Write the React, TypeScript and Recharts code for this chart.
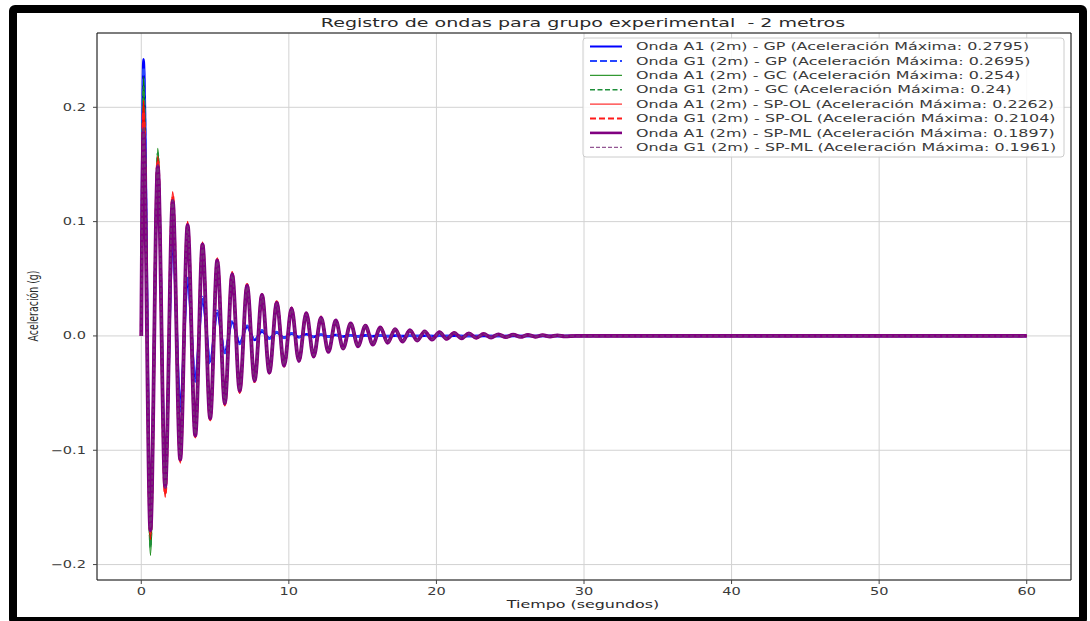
import React from 'react';
import { LineChart, Line, XAxis, YAxis, CartesianGrid, ReferenceArea } from 'recharts';

// ─── Data ─────────────────────────────────────────────────────────────────────

const TITLE = 'Registro de ondas para grupo experimental  - 2 metros';
const X_LABEL = 'Tiempo (segundos)';
const Y_LABEL = 'Aceleración (g)';

const X_TICKS = [0, 10, 20, 30, 40, 50, 60];
const Y_TICKS = [-0.2, -0.1, 0, 0.1, 0.2];
const Y_TICK_LABELS = ['\u22120.2', '\u22120.1', '0.0', '0.1', '0.2'];
const X_DOMAIN: [number, number] = [-3, 63];
const Y_DOMAIN: [number, number] = [-0.2135, 0.265];

const TIMES = [
  0,
  0.15, 0.62, 1.12, 1.62, 2.13, 2.64, 3.14, 3.66, 4.15, 4.67,
  5.15, 5.66, 6.16, 6.67, 7.17, 7.68, 8.18, 8.68, 9.18, 9.68,
  10.18, 10.68, 11.18, 11.68, 12.18, 12.68, 13.18, 13.68, 14.19, 14.69,
  15.19, 15.69, 16.2, 16.7, 17.2, 17.7, 18.2, 18.7, 19.2, 19.7,
  20.2, 20.7, 21.2, 21.7, 22.2, 22.7, 23.2, 23.7, 24.2, 24.7,
  25.2, 25.7, 26.2, 26.7, 27.2, 27.7, 28.2, 28.7,
  29.5, 60,
];

// extrema (peak, trough, peak, ...) of each record
const A1_GP = [
  0.242, -0.165, 0.150, -0.120, 0.085, -0.062, 0.048, -0.037, 0.032, -0.022,
  0.020, -0.014, 0.012, -0.006, 0.008, -0.0035, 0.004, -0.002, 0.003, -0.0015,
  0.002, -0.001, 0.0015, -0.0008, 0.001, -0.0006, 0.0008, -0.0005, 0.0006, -0.0004,
  0.0005, -0.0003, 0.0004, -0.0002, 0.0003, -0.0002, 0.0002, -0.0001, 0.0002, -0.0001,
  0.0001, -0.0001, 0.0001, 0, 0, 0, 0, 0, 0, 0,
  0, 0, 0, 0, 0, 0, 0, 0,
];
const G1_GP = [
  0.235, -0.160, 0.146, -0.118, 0.088, -0.066, 0.052, -0.040, 0.034, -0.024,
  0.022, -0.015, 0.013, -0.007, 0.009, -0.004, 0.005, -0.0025, 0.0035, -0.0018,
  0.0025, -0.0012, 0.0018, -0.0009, 0.0012, -0.0007, 0.0009, -0.0005, 0.0007, -0.0004,
  0.0005, -0.0003, 0.0004, -0.0003, 0.0003, -0.0002, 0.0002, -0.0001, 0.0002, -0.0001,
  0.0001, -0.0001, 0.0001, 0, 0, 0, 0, 0, 0, 0,
  0, 0, 0, 0, 0, 0, 0, 0,
];
const A1_GC = [
  0.227, -0.192, 0.164, -0.138, 0.121, -0.106, 0.096, -0.085, 0.079, -0.070,
  0.064, -0.057, 0.052, -0.046, 0.042, -0.037, 0.034, -0.030, 0.027, -0.024,
  0.022, -0.020, 0.018, -0.016, 0.015, -0.013, 0.012, -0.010, 0.010, -0.008,
  0.008, -0.0068, 0.0068, -0.0055, 0.0055, -0.0045, 0.0045, -0.0036, 0.0036, -0.0029,
  0.003, -0.0024, 0.0024, -0.0019, 0.002, -0.0016, 0.0016, -0.0013, 0.0013, -0.001,
  0.001, -0.0008, 0.0008, -0.0006, 0.0006, -0.0005, 0.0005, -0.0003,
];
const G1_GC = [
  0.218, -0.185, 0.160, -0.135, 0.119, -0.105, 0.095, -0.085, 0.078, -0.070,
  0.064, -0.057, 0.053, -0.047, 0.043, -0.038, 0.035, -0.031, 0.028, -0.025,
  0.023, -0.021, 0.019, -0.017, 0.015, -0.013, 0.0125, -0.0105, 0.0105, -0.0085,
  0.0085, -0.007, 0.007, -0.0057, 0.0057, -0.0046, 0.0046, -0.0037, 0.0037, -0.003,
  0.0031, -0.0025, 0.0025, -0.002, 0.002, -0.0016, 0.0017, -0.0013, 0.0013, -0.001,
  0.001, -0.0008, 0.0008, -0.0006, 0.0006, -0.0005, 0.0005, -0.0003,
];
const A1_SPOL = [
  0.206, -0.178, 0.157, -0.141, 0.126, -0.111, 0.100, -0.089, 0.082, -0.074,
  0.068, -0.061, 0.056, -0.050, 0.045, -0.040, 0.037, -0.033, 0.030, -0.027,
  0.025, -0.022, 0.020, -0.018, 0.017, -0.014, 0.014, -0.011, 0.011, -0.009,
  0.009, -0.0075, 0.0075, -0.006, 0.006, -0.005, 0.005, -0.004, 0.004, -0.0033,
  0.0033, -0.0027, 0.0027, -0.0022, 0.0022, -0.0017, 0.0018, -0.0014, 0.0014, -0.0011,
  0.0011, -0.0009, 0.0009, -0.0007, 0.0007, -0.0005, 0.0005, -0.0004,
];
const G1_SPOL = [
  0.196, -0.172, 0.153, -0.138, 0.122, -0.109, 0.098, -0.088, 0.081, -0.073,
  0.067, -0.060, 0.055, -0.049, 0.045, -0.040, 0.036, -0.032, 0.030, -0.026,
  0.024, -0.022, 0.020, -0.018, 0.016, -0.014, 0.013, -0.011, 0.011, -0.009,
  0.009, -0.0075, 0.0075, -0.006, 0.006, -0.005, 0.005, -0.004, 0.004, -0.0032,
  0.0033, -0.0026, 0.0027, -0.0021, 0.0022, -0.0017, 0.0018, -0.0014, 0.0014, -0.0011,
  0.0011, -0.0009, 0.0009, -0.0007, 0.0007, -0.0005, 0.0005, -0.0004,
];
const A1_SPML = [
  0.178, -0.170, 0.148, -0.132, 0.118, -0.108, 0.097, -0.087, 0.080, -0.072,
  0.066, -0.059, 0.054, -0.048, 0.044, -0.039, 0.036, -0.032, 0.029, -0.026,
  0.024, -0.022, 0.020, -0.018, 0.016, -0.014, 0.0135, -0.011, 0.011, -0.009,
  0.009, -0.0075, 0.0075, -0.006, 0.006, -0.005, 0.005, -0.004, 0.004, -0.0032,
  0.0033, -0.0026, 0.0027, -0.0021, 0.0022, -0.0017, 0.0018, -0.0014, 0.0014, -0.0011,
  0.0011, -0.0009, 0.0009, -0.0007, 0.0007, -0.0005, 0.0005, -0.0004,
];
const G1_SPML = [
  0.183, -0.168, 0.150, -0.133, 0.119, -0.107, 0.096, -0.086, 0.079, -0.071,
  0.065, -0.058, 0.053, -0.047, 0.043, -0.038, 0.035, -0.031, 0.028, -0.025,
  0.023, -0.021, 0.019, -0.017, 0.016, -0.013, 0.013, -0.011, 0.011, -0.009,
  0.009, -0.0072, 0.0072, -0.006, 0.006, -0.0048, 0.0048, -0.0039, 0.0039, -0.0031,
  0.0032, -0.0025, 0.0026, -0.002, 0.0021, -0.0016, 0.0017, -0.0013, 0.0013, -0.001,
  0.001, -0.0008, 0.0008, -0.0006, 0.0006, -0.0005, 0.0005, -0.0003,
];

const SERIES_LABELS = [
  'Onda A1 (2m) - GP (Aceleración Máxima: 0.2795)',
  'Onda G1 (2m) - GP (Aceleración Máxima: 0.2695)',
  'Onda A1 (2m) - GC (Aceleración Máxima: 0.254)',
  'Onda G1 (2m) - GC (Aceleración Máxima: 0.24)',
  'Onda A1 (2m) - SP-OL (Aceleración Máxima: 0.2262)',
  'Onda G1 (2m) - SP-OL (Aceleración Máxima: 0.2104)',
  'Onda A1 (2m) - SP-ML (Aceleración Máxima: 0.1897)',
  'Onda G1 (2m) - SP-ML (Aceleración Máxima: 0.1961)',
];
const SERIES_VALUES = [A1_GP, G1_GP, A1_GC, G1_GC, A1_SPOL, G1_SPOL, A1_SPML, G1_SPML];

// ─── Styles ───────────────────────────────────────────────────────────────────

const FONT = "'DejaVu Sans', Verdana, sans-serif";
const STX = 1.5; // glyphs in the reference are stretched horizontally

// width = legend sample, plotWidth = curve in the plot (looks fatter there)
const SERIES_STYLE = [
  { color: '#0000ff', width: 2, plotWidth: 2.6, dash: undefined },
  { color: '#2846ff', width: 2, plotWidth: 2.4, dash: '7 3' },
  { color: '#008000', width: 1, plotWidth: 1.6, dash: undefined },
  { color: '#1f8f3a', width: 1.5, plotWidth: 2, dash: '5 2.5' },
  { color: '#ff0000', width: 1, plotWidth: 1.8, dash: undefined },
  { color: '#ff1a1a', width: 2, plotWidth: 2.8, dash: '6 3' },
  { color: '#800080', width: 2.6, plotWidth: 3.8, dash: undefined },
  { color: '#7a2d7a', width: 1, plotWidth: 1.6, dash: '4 2' },
];

const rows = TIMES.map((t, i) => {
  const row: Record<string, number> = { t };
  SERIES_VALUES.forEach((vals, s) => {
    row['s' + s] = i === 0 || i > vals.length ? 0 : vals[i - 1] ?? 0;
  });
  return row;
});

// ─── Ticks ────────────────────────────────────────────────────────────────────

function XTick({ x, y, payload }: any) {
  return (
    <text
      transform={`translate(${x},${y + 9}) scale(${STX},1)`}
      textAnchor="middle"
      fontSize={9.7}
      fill="#3a3a3a"
      fontFamily={FONT}
    >
      {payload.value}
    </text>
  );
}

function YTick({ y, payload }: any) {
  const idx = Y_TICKS.findIndex((v) => Math.abs(v - payload.value) < 1e-9);
  return (
    <text
      transform={`translate(86,${y + 3.5}) scale(${STX},1)`}
      textAnchor="end"
      fontSize={9.7}
      fill="#3a3a3a"
      fontFamily={FONT}
    >
      {Y_TICK_LABELS[idx]}
    </text>
  );
}

// ─── Component ────────────────────────────────────────────────────────────────

export default function App() {
  return (
    <div style={{ position: 'absolute', left: 0, top: 0, width: 1090, height: 621, background: '#fff', overflow: 'hidden' }}>
      <div
        style={{
          position: 'absolute', left: 9, top: 5, width: 1078, height: 620,
          boxSizing: 'border-box', border: '8px solid #000', borderRadius: 6,
        }}
      />
      <div style={{ position: 'absolute', left: 0, top: 0 }}>
        <LineChart width={1090} height={621} data={rows} margin={{ top: 33, right: 19, bottom: 11, left: 37 }}>
          <CartesianGrid stroke="#d2d2d2" strokeWidth={1} />
          <XAxis
            dataKey="t"
            type="number"
            domain={X_DOMAIN}
            ticks={X_TICKS}
            allowDataOverflow
            height={30}
            axisLine={false}
            tickSize={4}
            tickLine={{ stroke: '#444' }}
            tick={<XTick />}
          />
          <YAxis
            type="number"
            domain={Y_DOMAIN}
            ticks={Y_TICKS}
            allowDataOverflow
            width={60}
            axisLine={false}
            tickSize={4}
            tickLine={{ stroke: '#444' }}
            tick={<YTick />}
          />
          <ReferenceArea
            x1={X_DOMAIN[0]}
            x2={X_DOMAIN[1]}
            y1={Y_DOMAIN[0]}
            y2={Y_DOMAIN[1]}
            fill="none"
            stroke="#111"
            strokeWidth={1}
            ifOverflow="visible"
          />
          {SERIES_STYLE.map((st, s) => (
            <Line
              key={s}
              type="monotone"
              dataKey={'s' + s}
              stroke={st.color}
              strokeWidth={st.plotWidth}
              strokeDasharray={st.dash}
              dot={false}
              isAnimationActive={false}
            />
          ))}
        </LineChart>
      </div>
      {/* title, axis labels and legend */}
      <svg width={1090} height={621} style={{ position: 'absolute', left: 0, top: 0, pointerEvents: 'none' }}>
        <text
          transform={`translate(583,27) scale(${STX},1)`}
          textAnchor="middle"
          fontSize={12.7}
          fill="#2a2a2a"
          fontFamily={FONT}
          style={{ whiteSpace: 'pre' }}
        >
          {TITLE}
        </text>
        <text
          transform={`translate(583,608) scale(${STX},1)`}
          textAnchor="middle"
          fontSize={10.6}
          fill="#2a2a2a"
          fontFamily={FONT}
        >
          {X_LABEL}
        </text>
        <text
          transform={`translate(37.5,306) scale(${STX},1) rotate(-90)`}
          textAnchor="middle"
          fontSize={9.4}
          fill="#2a2a2a"
          fontFamily={FONT}
        >
          {Y_LABEL}
        </text>
        <rect x={583} y={38} width={481} height={119} rx={3} fill="#fff" fillOpacity={0.85} stroke="#cccccc" />
        {SERIES_LABELS.map((label, i) => {
          const st = SERIES_STYLE[i];
          const cy = 46.5 + i * 14.4;
          return (
            <g key={i}>
              <line x1={590} x2={622} y1={cy} y2={cy} stroke={st.color} strokeWidth={st.width} strokeDasharray={st.dash} />
              <text
                transform={`translate(636,${cy + 3.6}) scale(1.56,1)`}
                fontSize={10.2}
                fill="#3a3a3a"
                fontFamily={FONT}
              >
                {label}
              </text>
            </g>
          );
        })}
      </svg>
    </div>
  );
}
